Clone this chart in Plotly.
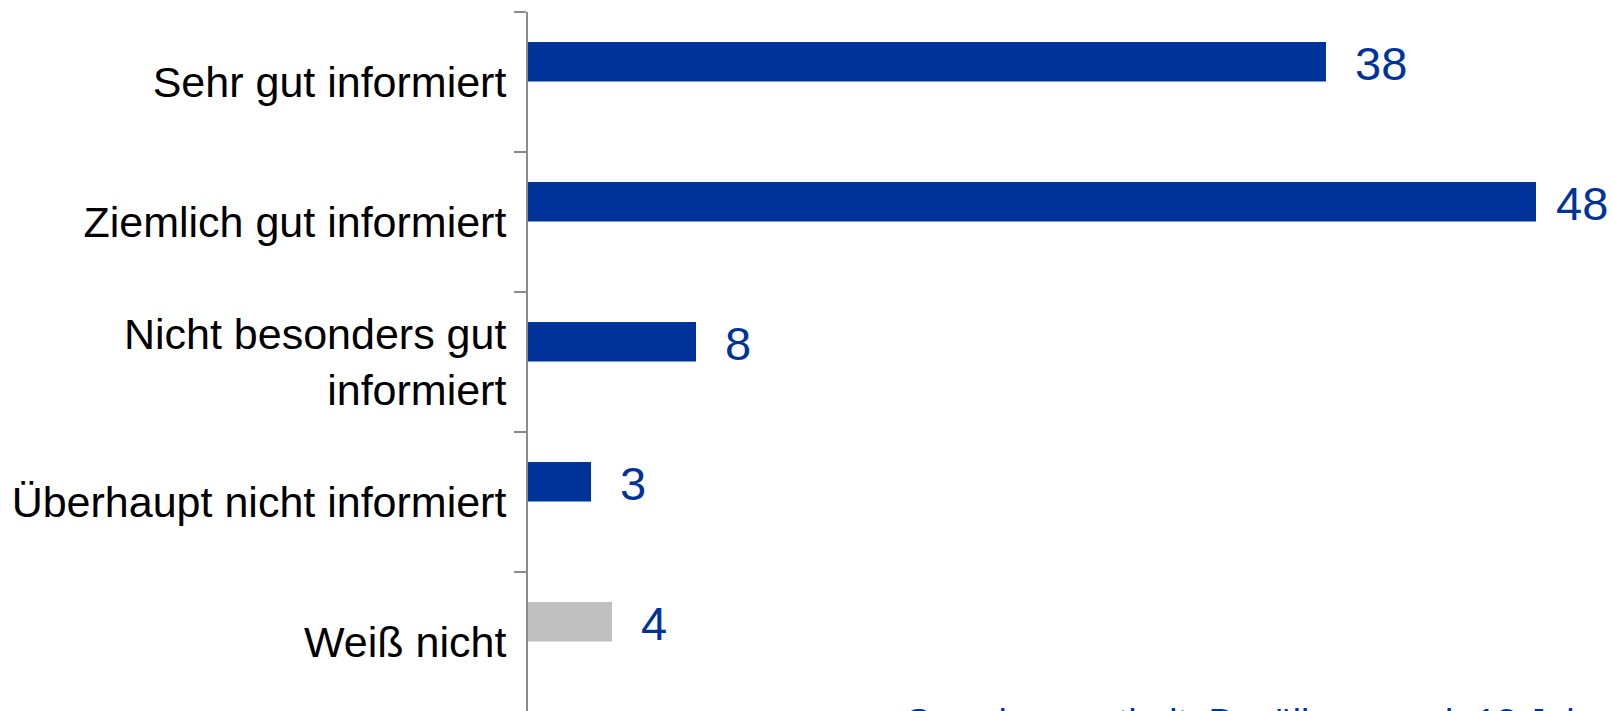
import plotly.graph_objects as go

# Survey answers (top to bottom) and shares in percent
categories = [
    "Sehr gut informiert",
    "Ziemlich gut informiert",
    "Nicht besonders gut<br>informiert",
    "Überhaupt nicht informiert",
    "Weiß nicht",
]
values = [38, 48, 8, 3, 4]
footnote = "Grundgesamtheit: Bevölkerung ab 18 Jahren"

BLUE = "#003399"
GREY = "#c0c0c0"
FONT = "Liberation Sans, Arial, sans-serif"

W, H = 1612, 711
M_LEFT, M_TOP = 528, 12
PX_PER_UNIT = 21.0
x_max = (W - M_LEFT) / PX_PER_UNIT
cat_px = 140.0
y_span = (H - M_TOP) / cat_px

colors = [GREY if c == "Weiß nicht" else BLUE for c in categories]

fig = go.Figure(
    go.Bar(
        x=values,
        y=categories,
        orientation="h",
        marker=dict(color=colors, line=dict(width=0)),
        offset=-0.286,
        width=0.282,
        hoverinfo="skip",
    )
)

# value labels to the right of each bar, kept inside the canvas
label_font = 47
for c, v in zip(categories, values):
    label_w = len(str(v)) * 0.556 * label_font
    room = (x_max - v) * PX_PER_UNIT - label_w - 6
    shift = max(0, min(27, room))
    fig.add_annotation(
        x=v, y=c, xref="x", yref="y",
        text=str(v), showarrow=False,
        xanchor="left", yanchor="middle",
        xshift=shift, yshift=19,
        font=dict(family=FONT, size=label_font, color=BLUE),
    )

fig.add_annotation(
    x=(902 - M_LEFT) / (W - M_LEFT), y=(H - 700) / (H - M_TOP),
    xref="paper", yref="paper",
    text=footnote, showarrow=False,
    xanchor="left", yanchor="top",
    font=dict(family=FONT, size=37, color=BLUE),
)

fig.update_layout(
    width=W, height=H,
    margin=dict(l=M_LEFT, r=0, t=M_TOP, b=0, pad=0),
    paper_bgcolor="white", plot_bgcolor="white",
    showlegend=False,
    xaxis=dict(
        range=[0, x_max], visible=False, showgrid=False, zeroline=False,
    ),
    yaxis=dict(
        type="category",
        range=[-0.5 + y_span, -0.5],
        showline=True, linecolor="#8c8c8c", linewidth=2,
        ticks="outside", tickson="boundaries", ticklen=12,
        tickcolor="#8c8c8c", tickwidth=2,
        tickfont=dict(family=FONT, size=43, color="black"),
        ticklabelstandoff=11,
        showgrid=False, zeroline=False,
    ),
)

fig.write_html("out.html")
